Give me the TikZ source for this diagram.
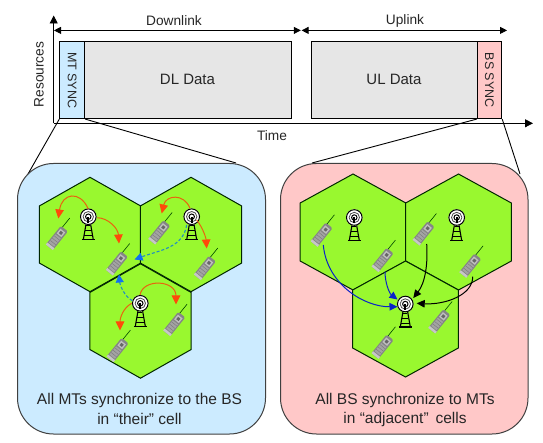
\documentclass[tikz,border=0pt]{standalone}
\usepackage{fontspec}
\setmainfont{Liberation Sans}
\usetikzlibrary{shapes.geometric,arrows.meta}
\definecolor{panelblue}{HTML}{CCEBFF}
\definecolor{panelpink}{HTML}{FFC8C8}
\definecolor{cellgreen}{HTML}{99F82F}
\definecolor{datagray}{HTML}{E6E6E6}
\definecolor{redline}{HTML}{E8640F}
\definecolor{redhead}{HTML}{FF4A0A}
\definecolor{bluehead}{HTML}{1070F0}
\definecolor{tealline}{HTML}{2090C0}
\definecolor{royal}{HTML}{0A22C8}
\tikzset{
 x=1pt,y=-1pt,
 every node/.style={font=\fontsize{13.7}{16}\selectfont,text=black!85},
 blockbox/.style={draw=black,line width=0.9pt,inner sep=0pt,anchor=north west},
 panelbox/.style={draw=black!75,line width=1pt,rounded corners=36pt,inner sep=0pt,anchor=north west},
 hexcell/.style={regular polygon,regular polygon sides=6,shape border rotate=30,minimum size=116pt,inner sep=0pt,outer sep=0pt,draw=black!85!green,fill=cellgreen,line width=1pt},
 hexleft/.style={hexcell,minimum size=114.4pt,xscale=1.02},
 hexright/.style={hexcell,minimum size=116pt,xscale=1.052},
 axisline/.style={line width=0.8pt,draw=black,-{Triangle[length=8pt,width=8pt]}},
 spanline/.style={line width=0.8pt,draw=black,{Triangle[length=7pt,width=7pt]}-{Triangle[length=7pt,width=7pt]}},
 zoomline/.style={line width=0.9pt,draw=black},
 redarc/.style={line width=1pt,draw=redline,-{Triangle[length=9pt,width=8.5pt,color=redhead]}},
 bluearc/.style={line width=1.1pt,draw=tealline,densely dashed,-{Triangle[length=8pt,width=8pt,color=bluehead]}},
 royalarc/.style={line width=1pt,draw=royal,-{Triangle[length=8pt,width=7.5pt]}},
 blackarc/.style={line width=1pt,draw=black,-{Triangle[length=8pt,width=7.5pt]}},
 towerpic/.pic={
  \draw[black,line width=1.3pt] (-6.5,23)--(6.5,23);
  \draw[black,line width=1.1pt] (-1.5,3)--(-5,23) (1.5,3)--(5,23);
  \draw[black,line width=0.9pt] (-2,9)--(2,9) (-3,14)--(3,14) (-4,19)--(4,19);
  \fill[white] (0,0) circle (8.2);
  \draw[black,line width=1pt] (0,0) circle (7.8);
  \draw[black!70,line width=0.8pt] (0,0) circle (5.2);
  \draw[black,line width=1pt] (0,0) circle (2.7);
  \fill[black] (-1,0) rectangle (1,6);
 },
 phonepic/.pic={
  \draw[black!60!green!70!black,line width=0.6pt] (22,-2.5)--(35.5,-2.5);
  \fill[black!48,rounded corners=1.5pt] (0,-4.5)--(24,-4.5)--(24,4.5)--(0,4.5)--cycle;
  \fill[black!22] (0,-4.5) rectangle (2.5,4.5);
  \fill[black!36] (3.5,-3.4) rectangle (14,3.4);
  \draw[black!55,line width=0.35pt] (6,-3.4)--(6,3.4) (9,-3.4)--(9,3.4) (12,-3.4)--(12,3.4);
  \fill[black!25] (15.5,-3) rectangle (21.5,3);
  \fill[black!60] (17,-1.5) rectangle (20,1.5);
 }
}
\begin{document}
\begin{tikzpicture}
\useasboundingbox (0,0) rectangle (543,443);
\fill[white] (0,0) rectangle (543,443);

% time-frame blocks
\node[blockbox,fill=panelblue,minimum width=25pt,minimum height=77pt] (mt) at (59.3,41.2) {};
\node[blockbox,fill=datagray,minimum width=206.4pt,minimum height=77pt] (dl) at (84.3,41.2) {};
\node[blockbox,fill=datagray,minimum width=165.4pt,minimum height=77pt] (ul) at (311.3,41.2) {};
\node[blockbox,fill=panelpink,minimum width=24.6pt,minimum height=77pt] (bs) at (476.7,41.2) {};
\node[rotate=-90,font=\fontsize{12.5}{14}\selectfont] (mtl) at (mt.center) {MT SYNC};
\node[rotate=-90,font=\fontsize{12.5}{14}\selectfont] (bsl) at (bs.center) {BS SYNC};
\node[font=\fontsize{15}{17}\selectfont] (dll) at (187.5,79.5) {DL Data};
\node[font=\fontsize{15}{17}\selectfont] (ull) at (394,79.5) {UL Data};

% axes
\coordinate (org) at (53.7,123.3);
\coordinate (ytip) at (53.7,15.5);
\coordinate (xtip) at (533,123.3);
\draw[axisline] (org)--(ytip);
\draw[axisline] (org)--(xtip);
\node[rotate=90] (res) at (39,74.5) {Resources};
\node (time) at (272,136) {Time};

% spans
\coordinate (spanA) at (54,30.4);
\coordinate (spanB) at (300.8,30.4);
\coordinate (spanC) at (301.6,30.4);
\coordinate (spanD) at (507,30.4);
\draw[spanline] (spanA)--(spanB);
\draw[spanline] (spanC)--(spanD);
\node (dn) at (174,20.5) {Downlink};
\node (up) at (405,20.5) {Uplink};

% zoom lines
\coordinate (zA) at (28,174);
\coordinate (zB) at (236,163);
\coordinate (zC) at (312,163);
\coordinate (zD) at (520,174);
\draw[zoomline] (mt.south west)--(zA);
\draw[zoomline] (mt.south east)--(zB);
\draw[zoomline] (bs.south west)--(zC);
\draw[zoomline] (bs.south east)--(zD);

% panels
\node[panelbox,fill=panelblue,minimum width=248pt,minimum height=270.5pt] (pl) at (17,163) {};
\node[panelbox,fill=panelpink,minimum width=247.5pt,minimum height=270.5pt] (pr) at (280,163) {};

% left cells
\node[hexleft] (la) at (90,234.5) {};
\node[hexleft] (lb) at (191,234.5) {};
\node[hexleft] (lc) at (140.5,321) {};
% right cells
\node[hexright] (ra) at (353,232) {};
\node[hexright] (rb) at (458.5,232) {};
\node[hexright] (rc) at (405.5,319) {};

% towers
\coordinate (ta) at (88.3,216.7);
\coordinate (tb) at (191.7,216.7);
\coordinate (tc) at (140.3,303.3);
\coordinate (ua) at (354.3,217.5);
\coordinate (ub) at (456.7,217.5);
\coordinate (uc) at (405.3,304);
\foreach \t in {ta,tb,tc,ua,ub,uc}{\pic at (\t) {towerpic};}

% phones
\foreach \n/\p in {pa/{49.3,247.3},pb/{109.3,272.7},pc/{151.7,241.7},pd/{197.3,277.3},pe/{166.7,333.3},pf/{110,359.3},
 qa/{314,244},qb/{375,269.3},qc/{416,242.7},qd/{462.7,275},qe/{431.7,330.7},qf/{375,356}}{
  \coordinate (\n) at (\p);
  \pic[rotate=51] at (\n) {phonepic};
}

% left arrows
\coordinate (a1) at (88.3,209); \coordinate (a1t) at (58.3,218.5);
\coordinate (a2) at (97.3,217.7); \coordinate (a2t) at (119,243.5);
\coordinate (b1) at (190,208.3); \coordinate (b1t) at (161.7,213.5);
\coordinate (b2) at (196.7,220); \coordinate (b2t) at (206.7,248.5);
\coordinate (c1) at (140,295); \coordinate (c1t) at (176,304.5);
\coordinate (c2) at (131.7,303.3); \coordinate (c2t) at (120,330.5);
\coordinate (d1) at (186.7,225); \coordinate (d1t) at (134.5,259.5);
\coordinate (d2) at (132.3,300.7); \coordinate (d2t) at (119,274.5);
\draw[redarc] (a1) .. controls (80,190) and (62,193) .. (a1t);
\draw[redarc] (a2) .. controls (108,218) and (118,228) .. (a2t);
\draw[redarc] (b1) .. controls (184,193) and (166,195) .. (b1t);
\draw[redarc] (b2) .. controls (203,228) and (206,238) .. (b2t);
\draw[redarc] (c1) .. controls (143,278) and (176,280) .. (c1t);
\draw[redarc] (c2) .. controls (123,308) and (120,318) .. (c2t);
\draw[bluearc] (d1) .. controls (183,248) and (160,250) .. (d1t);
\draw[bluearc] (d2) .. controls (124,296) and (120,285) .. (d2t);

% right arrows
\coordinate (e1) at (323.3,245); \coordinate (e1t) at (397.5,306.7);
\coordinate (e2) at (385,271.7); \coordinate (e2t) at (397.5,299.5);
\coordinate (f1) at (426.7,244); \coordinate (f1t) at (413.3,298);
\coordinate (f2) at (472.7,276.7); \coordinate (f2t) at (416.7,303.3);
\draw[royalarc] (e1) .. controls (327,285) and (365,307) .. (e1t);
\draw[royalarc] (e2) .. controls (385,282) and (389,293) .. (e2t);
\draw[blackarc] (f1) .. controls (428,265) and (425,283) .. (f1t);
\draw[blackarc] (f2) .. controls (473,295) and (445,305) .. (f2t);

% captions
\node[font=\fontsize{15.5}{18}\selectfont] (capl1) at (139.5,400) {All MTs synchronize to the BS};
\node[font=\fontsize{15.5}{18}\selectfont] (capl2) at (139.5,419) {in “their” cell};
\node[font=\fontsize{15.5}{18}\selectfont] (capr1) at (405,400) {All BS synchronize to MTs};
\node[font=\fontsize{15.5}{18}\selectfont] (capr2) at (405,419) {in “adjacent”\, cells};
\end{tikzpicture}
\end{document}
